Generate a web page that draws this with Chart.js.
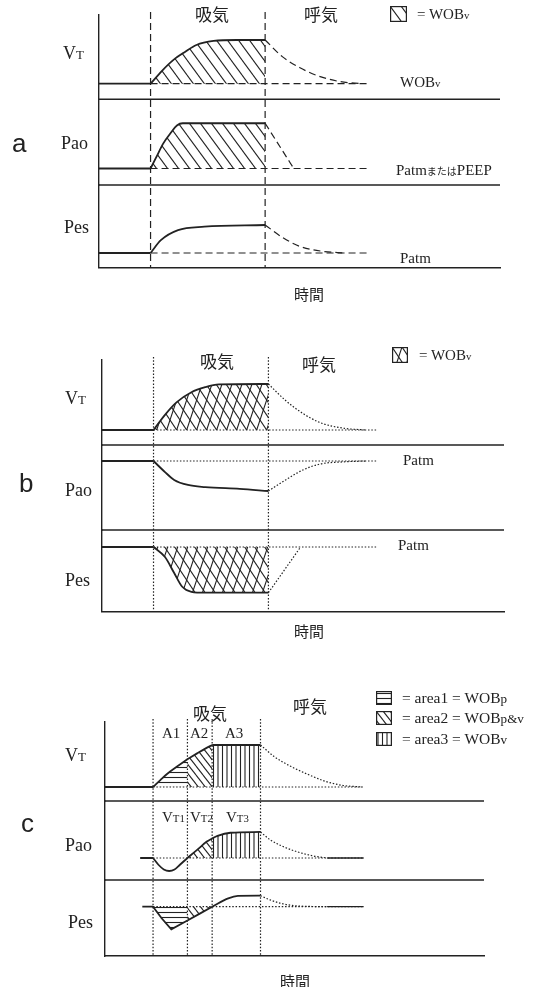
<!DOCTYPE html>
<html lang="ja">
<head>
<meta charset="utf-8">
<title>WOB waveforms</title>
<script src="https://cdn.jsdelivr.net/npm/chart.js@4.4.1/dist/chart.umd.min.js"></script>
<style>
  html, body { margin: 0; padding: 0; background: #fff; }
  body { position: relative; width: 537px; height: 987px; overflow: hidden; }
  canvas.panel { position: absolute; left: 0; }
  .lbl { position: absolute; font-family: "Liberation Serif", "Times New Roman", serif; font-size: 15px; color: #222; line-height: 1; white-space: nowrap; transform: translateY(-50%); }
  .row { font-size: 18px; }
  .tag { font-family: "Liberation Sans", Arial, sans-serif; font-size: 26px; }
  .jp { font-family: "Noto Sans CJK JP", sans-serif; font-size: 17px; }
  .tm { font-size: 15px; }
  .sm { font-size: 0.72em; }
  .lg { font-size: 15.5px; }
  .lg .sm { font-size: 0.85em; }
  .kana { font-family: "Noto Sans CJK JP", sans-serif; font-size: 10px; }
  .sw { position: absolute; }
</style>
</head>
<body>
<canvas id="panelA" class="panel" width="537" height="300" style="top:0"></canvas>
<canvas id="panelB" class="panel" width="537" height="340" style="top:300px"></canvas>
<canvas id="panelC" class="panel" width="537" height="347" style="top:640px"></canvas>

<!-- panel a -->
<div class="lbl tag" style="left:12px;top:143px">a</div>
<div class="lbl row" style="left:63px;top:53px">V<span class="sm">T</span></div>
<div class="lbl row" style="left:61px;top:143px">Pao</div>
<div class="lbl row" style="left:64px;top:227px">Pes</div>
<div class="lbl jp" style="left:195px;top:13px">吸気</div>
<div class="lbl jp" style="left:304px;top:13px">呼気</div>
<canvas class="sw" id="swA" width="17" height="16" style="left:390px;top:6px"></canvas>
<div class="lbl" style="left:417px;top:14px">= WOB<span class="sm">v</span></div>
<div class="lbl" style="left:400px;top:82px">WOB<span class="sm">v</span></div>
<div class="lbl" style="left:396px;top:170px">Patm<span class="kana">または</span>PEEP</div>
<div class="lbl" style="left:400px;top:258px">Patm</div>
<div class="lbl jp tm" style="left:294px;top:293px">時間</div>

<!-- panel b -->
<div class="lbl tag" style="left:19px;top:483px">b</div>
<div class="lbl row" style="left:65px;top:398px">V<span class="sm">T</span></div>
<div class="lbl row" style="left:65px;top:490px">Pao</div>
<div class="lbl row" style="left:65px;top:580px">Pes</div>
<div class="lbl jp" style="left:200px;top:360px">吸気</div>
<div class="lbl jp" style="left:302px;top:363px">呼気</div>
<canvas class="sw" id="swB" width="16" height="16" style="left:392px;top:347px"></canvas>
<div class="lbl" style="left:419px;top:355px">= WOB<span class="sm">v</span></div>
<div class="lbl" style="left:403px;top:460px">Patm</div>
<div class="lbl" style="left:398px;top:545px">Patm</div>
<div class="lbl jp tm" style="left:294px;top:630px">時間</div>

<!-- panel c -->
<div class="lbl tag" style="left:21px;top:823px">c</div>
<div class="lbl row" style="left:65px;top:755px">V<span class="sm">T</span></div>
<div class="lbl row" style="left:65px;top:845px">Pao</div>
<div class="lbl row" style="left:68px;top:922px">Pes</div>
<div class="lbl jp" style="left:193px;top:712px">吸気</div>
<div class="lbl jp" style="left:293px;top:705px">呼気</div>
<div class="lbl" style="left:162px;top:733px">A1</div>
<div class="lbl" style="left:190px;top:733px">A2</div>
<div class="lbl" style="left:225px;top:733px">A3</div>
<div class="lbl" style="left:162px;top:817px">V<span class="sm">T1</span></div>
<div class="lbl" style="left:190px;top:817px">V<span class="sm">T2</span></div>
<div class="lbl" style="left:226px;top:817px">V<span class="sm">T3</span></div>
<canvas class="sw" id="swC1" width="16" height="14" style="left:376px;top:691px"></canvas>
<canvas class="sw" id="swC2" width="16" height="14" style="left:376px;top:711px"></canvas>
<canvas class="sw" id="swC3" width="16" height="14" style="left:376px;top:732px"></canvas>
<div class="lbl lg" style="left:402px;top:698px">= area1 = WOB<span class="sm">p</span></div>
<div class="lbl lg" style="left:402px;top:718px">= area2 = WOB<span class="sm">p&amp;v</span></div>
<div class="lbl lg" style="left:402px;top:739px">= area3 = WOB<span class="sm">v</span></div>
<div class="lbl jp tm" style="left:280px;top:980px">時間</div>

<script>
// ---- data (time in s, VT in mL, pressures in cmH2O) ----
// panel a: ventilator-driven breath
const aPhase = [0.45, 1.45];
const aPreT = [0, 0.45];
const aBaseT = [0.45, 2.37];
const zero2 = [0, 0];
const aVtT = [0.45, 0.55, 0.65, 0.75, 0.85, 1.0, 1.2, 1.45];
const aVt = [0, 148, 273, 364, 443, 489, 500, 500];
const aVtExpT = [1.45, 1.6, 1.75, 1.9, 2.1, 2.3];
const aVtExp = [500, 310, 185, 95, 25, 0];
const aPaoT = [0.45, 0.5, 0.56, 0.63, 0.68, 0.73, 1.45];
const aPao = [0, 5, 11, 16, 19, 20, 20];
const aPaoExpT = [1.45, 1.7];
const aPaoExp = [20, 0];
const aPesT = [0.45, 0.54, 0.69, 0.92, 1.45];
const aPes = [0, 2.3, 4.1, 4.7, 5];
const aPesExpT = [1.45, 1.6, 1.75, 1.95, 2.15];
const aPesExp = [5, 2.8, 1.2, 0.3, 0];

// panel b: spontaneous breath
const bPhase = [0.45, 1.45];
const bPreT = [0, 0.45];
const bBaseT = [0.45, 2.4];
const bVtT = [0.45, 0.55, 0.65, 0.78, 0.9, 1.02, 1.45];
const bVt = [0, 165, 300, 410, 465, 495, 500];
const bVtExpT = [1.45, 1.6, 1.75, 1.9, 2.1, 2.3];
const bVtExp = [500, 320, 180, 80, 20, 0];
const bPaoT = [0.45, 0.55, 0.63, 0.75, 0.9, 1.2, 1.45];
const bPao = [0, -3.7, -6.3, -8, -8.7, -9.3, -10];
const bPaoExpT = [1.45, 1.6, 1.75, 1.9, 2.1, 2.3];
const bPaoExp = [-10, -6.3, -3, -1, -0.3, 0];
const bPesT = [0.45, 0.55, 0.63, 0.7, 0.78, 0.9, 1.45];
const bPes = [0, -2.2, -5.7, -8.7, -9.8, -10, -10];
const bPesExpT = [1.45, 1.73];
const bPesExp = [-10, 0];

// panel c: assisted breath split into A1 / A2 / A3
const cPhase = [0.45, 0.77, 1.0, 1.45];
const cVtPreT = [0, 0.45];
const cPaoPreT = [0.33, 0.45];
const cPesPreT = [0.35, 0.45];
const cBaseT = [0.45, 2.41];
const cTailT = [2.07, 2.41];
const cVtA1T = [0.45, 0.52, 0.58, 0.67, 0.77];
const cVtA1 = [0, 85, 155, 240, 330];
const cVtA2T = [0.77, 0.86, 0.94, 1.0];
const cVtA2 = [330, 400, 460, 500];
const cVtA3T = [1.0, 1.45];
const cVtA3 = [500, 500];
const cVtExpT = [1.45, 1.58, 1.74, 1.9, 2.06, 2.22, 2.4];
const cVtExp = [500, 360, 240, 145, 65, 18, 0];
const cPaoA1T = [0.45, 0.5, 0.55, 0.6, 0.65, 0.7, 0.77];
const cPaoA1 = [0, -2.6, -4.4, -5, -4.4, -2.6, 0];
const cPaoA2T = [0.77, 0.86, 0.95, 1.0];
const cPaoA2 = [0, 3.1, 6.3, 7.5];
const cPaoA3T = [1.0, 1.05, 1.17, 1.45];
const cPaoA3 = [7.5, 8.5, 9.7, 10];
const cPaoExpT = [1.45, 1.54, 1.66, 1.79, 1.94, 2.07];
const cPaoExp = [10, 7, 4.4, 2.4, 0.8, 0];
const cPesA1T = [0.45, 0.53, 0.62, 0.77];
const cPesA1 = [0, -2.9, -5.65, -3.45];
const cPesA2T = [0.77, 1.0];
const cPesA2 = [-3.45, 0];
const cPesA3T = [1.0, 1.15, 1.24, 1.45];
const cPesA3 = [0, 2.1, 2.7, 2.75];
const cPesExpT = [1.45, 1.54, 1.66, 1.79, 1.94, 2.07];
const cPesExp = [2.75, 1.7, 0.7, 0.2, 0.05, 0];

// ---- styling helpers ----
const ink = '#222';

function hatch(w, h, lines, lw) {
  const c = document.createElement('canvas');
  c.width = w; c.height = h;
  const g = c.getContext('2d');
  g.strokeStyle = ink; g.lineWidth = lw;
  for (const [x0, y0, x1, y1] of lines) {
    for (const dx of [-w, 0, w]) for (const dy of [-h, 0, h]) {
      g.beginPath(); g.moveTo(x0 + dx, y0 + dy); g.lineTo(x1 + dx, y1 + dy); g.stroke();
    }
  }
  return g.createPattern(c, 'repeat');
}

const diagA = hatch(11, 15, [[0, 0, 11, 15]], 1.1);
const crossB = hatch(10, 30, [[0, 0, 20, 30], [10, 0, 0, 30]], 1.1);
const horizC = hatch(4, 5, [[0, 2.5, 4, 2.5]], 1.1);
const diagC = hatch(7, 9, [[0, 0, 7, 9]], 1.1);
const vertC = hatch(9, 4, [[2, 0, 2, 4], [6.5, 0, 6.5, 4]], 1.1);

const pts = (t, v) => t.map((x, i) => ({ x, y: v[i] }));

function trace(t, v, axis, opt = {}) {
  return Object.assign({
    data: pts(t, v), yAxisID: axis, borderColor: ink, borderWidth: 1.8,
    pointRadius: 0, cubicInterpolationMode: 'monotone', fill: false
  }, opt);
}
const dashed = { borderDash: [7, 4], borderWidth: 1.2 };
const dotted = { borderDash: [1.5, 1.8], borderWidth: 1.2 };
const hatched = p => ({ fill: { value: 0 }, backgroundColor: p });

// rows listed top to bottom; the left stack places the last-defined axis on top
function scalesFor(xMax, rows) {
  const s = {
    x: { type: 'linear', min: 0, max: xMax, grid: { display: false, drawTicks: false },
         ticks: { display: false }, border: { color: ink, width: 1.4 } }
  };
  [...rows].reverse().forEach(r => {
    s[r.id] = { type: 'linear', position: 'left', stack: 'rows', stackWeight: r.weight,
                min: r.min, max: r.max, grid: { display: false, drawTicks: false },
                ticks: { display: false }, border: { color: ink, width: 1.4 } };
  });
  return s;
}

const guides = {
  id: 'guides',
  beforeDatasetsDraw(chart, args, opts) {
    const { ctx, chartArea, scales } = chart;
    ctx.save();
    ctx.strokeStyle = ink;
    ctx.lineWidth = 1.4;
    opts.separators.forEach(id => {
      const y = scales[id].bottom;
      ctx.beginPath(); ctx.moveTo(chartArea.left, y); ctx.lineTo(chartArea.right, y); ctx.stroke();
    });
    ctx.lineWidth = 1.2;
    ctx.setLineDash(opts.dash);
    opts.phases.forEach(t => {
      const x = scales.x.getPixelForValue(t);
      ctx.beginPath(); ctx.moveTo(x, chartArea.top - 3); ctx.lineTo(x, chartArea.bottom); ctx.stroke();
    });
    ctx.restore();
  }
};

function panel(id, padding, xMax, rows, datasets, phases, dash) {
  return new Chart(document.getElementById(id), {
    type: 'line',
    data: { datasets },
    options: {
      responsive: false,
      animation: false,
      layout: { padding },
      scales: scalesFor(xMax, rows),
      plugins: {
        legend: { display: false },
        tooltip: { enabled: false },
        guides: { separators: rows.slice(0, -1).map(r => r.id), phases, dash }
      }
    },
    plugins: [guides]
  });
}

panel('panelA', { left: 99, right: 37, top: 15, bottom: 32.5 }, 3.5, [
  { id: 'vt', weight: 84.3, min: -178.5, max: 786 },
  { id: 'pao', weight: 85.7, min: -7.3, max: 30.6 },
  { id: 'pes', weight: 82.5, min: -2.59, max: 12.14 }
], [
  trace(aPreT, zero2, 'vt'),
  trace(aBaseT, zero2, 'vt', dashed),
  trace(aVtT, aVt, 'vt', hatched(diagA)),
  trace(aVtExpT, aVtExp, 'vt', dashed),
  trace(aPreT, zero2, 'pao'),
  trace(aBaseT, zero2, 'pao', dashed),
  trace(aPaoT, aPao, 'pao', hatched(diagA)),
  trace(aPaoExpT, aPaoExp, 'pao', dashed),
  trace(aPreT, zero2, 'pes'),
  trace(aBaseT, zero2, 'pes', dashed),
  trace(aPesT, aPes, 'pes'),
  trace(aPesExpT, aPesExp, 'pes', dashed)
], aPhase, [7, 4]);

panel('panelB', { left: 101.8, right: 33, top: 60, bottom: 28.3 }, 3.5, [
  { id: 'vt', weight: 85, min: -163, max: 761 },
  { id: 'pao', weight: 85, min: -23, max: 5.33 },
  { id: 'pes', weight: 81.7, min: -14.16, max: 3.72 }
], [
  trace(bPreT, zero2, 'vt'),
  trace(bBaseT, zero2, 'vt', dotted),
  trace(bVtT, bVt, 'vt', hatched(crossB)),
  trace(bVtExpT, bVtExp, 'vt', dotted),
  trace(bPreT, zero2, 'pao'),
  trace(bBaseT, zero2, 'pao', dotted),
  trace(bPaoT, bPao, 'pao'),
  trace(bPaoExpT, bPaoExp, 'pao', dotted),
  trace(bPreT, zero2, 'pes'),
  trace(bBaseT, zero2, 'pes', dotted),
  trace(bPesT, bPes, 'pes', hatched(crossB)),
  trace(bPesExpT, bPesExp, 'pes', Object.assign({ cubicInterpolationMode: 'default' }, dotted))
], bPhase, [1.5, 1.8]);

panel('panelC', { left: 104.7, right: 53, top: 82, bottom: 31 }, 3.53, [
  { id: 'vt', weight: 79, min: -166.7, max: 773.7 },
  { id: 'pao', weight: 79, min: -8.46, max: 21.9 },
  { id: 'pes', weight: 76, min: -12.33, max: 6.68 }
], [
  trace(cVtPreT, zero2, 'vt'),
  trace(cBaseT, zero2, 'vt', dotted),
  trace(cVtA1T, cVtA1, 'vt', hatched(horizC)),
  trace(cVtA2T, cVtA2, 'vt', hatched(diagC)),
  trace(cVtA3T, cVtA3, 'vt', hatched(vertC)),
  trace(cVtExpT, cVtExp, 'vt', dotted),
  trace(cPaoPreT, zero2, 'pao'),
  trace(cBaseT, zero2, 'pao', dotted),
  trace(cPaoA1T, cPaoA1, 'pao'),
  trace(cPaoA2T, cPaoA2, 'pao', hatched(diagC)),
  trace(cPaoA3T, cPaoA3, 'pao', hatched(vertC)),
  trace(cPaoExpT, cPaoExp, 'pao', dotted),
  trace(cTailT, zero2, 'pao', { borderWidth: 1.3 }),
  trace(cPesPreT, zero2, 'pes'),
  trace(cBaseT, zero2, 'pes', dotted),
  trace(cPesA1T, cPesA1, 'pes', Object.assign({ cubicInterpolationMode: 'default' }, hatched(horizC))),
  trace(cPesA2T, cPesA2, 'pes', hatched(diagC)),
  trace(cPesA3T, cPesA3, 'pes'),
  trace(cPesExpT, cPesExp, 'pes', dotted),
  trace(cTailT, zero2, 'pes', { borderWidth: 1.3 })
], cPhase, [1.5, 1.8]);

// legend swatches
function swatch(id, pattern) {
  const c = document.getElementById(id);
  const g = c.getContext('2d');
  g.fillStyle = pattern;
  g.fillRect(1, 1, c.width - 2, c.height - 2);
  g.strokeStyle = ink; g.lineWidth = 1.2;
  g.strokeRect(0.6, 0.6, c.width - 1.2, c.height - 1.2);
}
swatch('swA', diagA);
swatch('swB', crossB);
swatch('swC1', horizC);
swatch('swC2', diagC);
swatch('swC3', vertC);
</script>
</body>
</html>
